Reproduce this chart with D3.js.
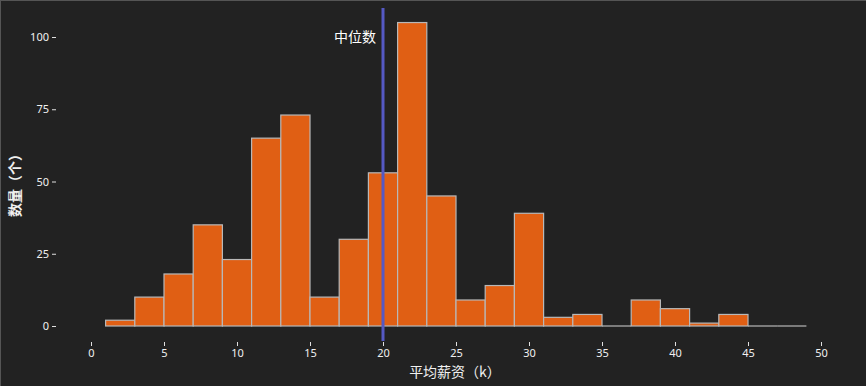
<!DOCTYPE html>
<html>
<head>
<meta charset="utf-8">
<script src="https://cdn.jsdelivr.net/npm/d3@7"></script>
<style>
  html, body { margin: 0; padding: 0; background: #222222; }
  #vis { display: block; }
</style>
</head>
<body>
<svg id="vis"></svg>
<script>
const WIDTH = 866
const HEIGHT = 386

// histogram bins (start of bin, bin width 2k) and counts
const binStarts = [1, 3, 5, 7, 9, 11, 13, 15, 17, 19, 21, 23, 25, 27, 29, 31, 33, 35, 37, 39, 41, 43, 45, 47]
const counts = [2, 10, 18, 35, 23, 65, 73, 10, 30, 53, 105, 45, 9, 14, 39, 3, 4, 0, 9, 6, 1, 4, 0, 0]
const binWidth = 2
const median = 20
const xTicks = [0, 5, 10, 15, 20, 25, 30, 35, 40, 45, 50]
const yTicks = [0, 25, 50, 75, 100]

const svg = d3.select('#vis').attr('width', WIDTH).attr('height', HEIGHT)

svg.append('line').attr('x1', 0).attr('y1', 0.5).attr('x2', WIDTH).attr('y2', 0.5)
    .attr('stroke', '#555').attr('stroke-width', 1)
svg.append('line').attr('x1', 0.5).attr('y1', 0).attr('x2', 0.5).attr('y2', HEIGHT)
    .attr('stroke', '#555').attr('stroke-width', 1)

const x = d3.scaleLinear().domain([0, 50]).range([91, 821])
const y = d3.scaleLinear().domain([0, 100]).range([326, 37])

const bins = binStarts.map((s, i) => ({ x0: s, x1: s + binWidth, n: counts[i] }))

// bars
const barG = svg.append('g')
barG.selectAll('rect')
    .data(bins.filter(d => d.n > 0))
    .join('rect')
    .attr('x', d => x(d.x0))
    .attr('y', d => y(d.n))
    .attr('width', d => x(d.x1) - x(d.x0))
    .attr('height', d => y(0) - y(d.n))
    .attr('fill', '#e05f14')
    .attr('stroke', '#b8b8b8')
    .attr('stroke-width', 1.2)

// empty bins still show their outline on the baseline
barG.selectAll('line')
    .data(bins.filter(d => d.n === 0))
    .join('line')
    .attr('x1', d => x(d.x0))
    .attr('x2', d => x(d.x1))
    .attr('y1', y(0))
    .attr('y2', y(0))
    .attr('stroke', '#b8b8b8')
    .attr('stroke-width', 1.2)

// median line
svg.append('line')
    .attr('x1', x(median)).attr('x2', x(median))
    .attr('y1', 8).attr('y2', 341)
    .attr('stroke', '#5559c4')
    .attr('stroke-width', 3)

svg.append('text')
    .attr('x', x(median) - 7)
    .attr('y', 42)
    .attr('text-anchor', 'end')
    .attr('fill', '#ffffff')
    .style('font-family', '"Noto Sans CJK SC", "Noto Sans", sans-serif')
    .style('font-size', '14px')
    .text('中位数')

// y axis
const yAxis = svg.append('g')
    .attr('transform', 'translate(56,0)')
    .call(d3.axisLeft(y).tickValues(yTicks).tickSize(4).tickPadding(3))
yAxis.select('.domain').remove()

// x axis
const xAxis = svg.append('g')
    .attr('transform', 'translate(0,346)')
    .call(d3.axisTop(x).tickValues(xTicks).tickSize(4).tickPadding(-15))
xAxis.select('.domain').remove()

svg.selectAll('.tick line').attr('stroke', '#e0e0e0')
svg.selectAll('.tick text')
    .attr('fill', '#f0f0f0')
    .style('font-family', '"Noto Sans", sans-serif')
    .style('font-size', '11px')

// axis titles
svg.append('text')
    .attr('transform', 'translate(20,182) rotate(-90)')
    .attr('text-anchor', 'middle')
    .attr('fill', '#f0f0f0')
    .style('font-family', '"Noto Sans CJK SC", sans-serif')
    .style('font-size', '14px')
    .style('font-weight', 'bold')
    .text('数量（个）')

svg.append('text')
    .attr('x', 455)
    .attr('y', 377)
    .attr('text-anchor', 'middle')
    .attr('fill', '#f0f0f0')
    .style('font-family', '"Noto Sans CJK SC", sans-serif')
    .style('font-size', '14px')
    .text('平均薪资（k）')
</script>
</body>
</html>
